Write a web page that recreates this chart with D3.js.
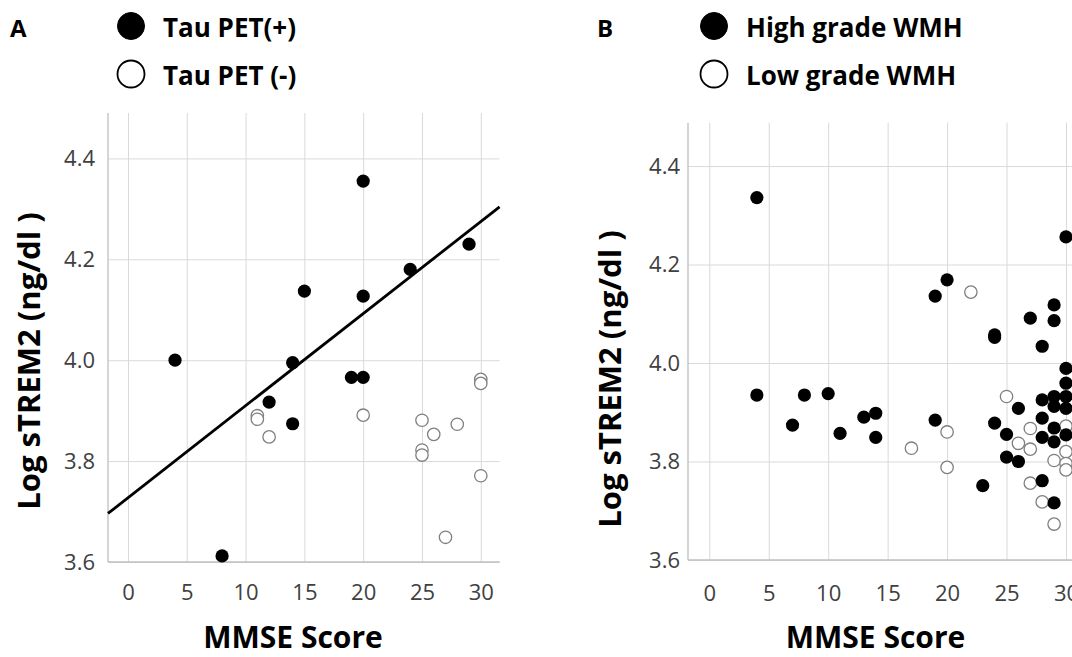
<!DOCTYPE html>
<html>
<head>
<meta charset="utf-8">
<script src="https://cdn.jsdelivr.net/npm/d3@7"></script>
<style>
  body { margin: 0; background: #fff; }
  svg { display: block; font-family: "Open Sans", sans-serif; }
</style>
</head>
<body>
<svg id="chart" width="1072" height="657"></svg>
<script>
//Data: [MMSE score, log sTREM2]
//Panel A
const tauPos = [
  [4, 4.000], [8, 3.612], [12, 3.917], [14, 3.995], [14, 3.874], [15, 4.137],
  [19, 3.966], [20, 3.966], [20, 4.127], [20, 4.355], [24, 4.180], [29, 4.230]
];
const tauNeg = [
  [11, 3.890], [11, 3.883], [12, 3.848], [20, 3.891], [25, 3.881], [25, 3.822],
  [25, 3.812], [26, 3.853], [27, 3.649], [28, 3.873], [30, 3.962], [30, 3.954],
  [30, 3.771]
];
//Panel B
const wmhHigh = [
  [4, 4.336], [4, 3.935], [7, 3.874], [8, 3.935], [10, 3.938], [11, 3.857],
  [13, 3.890], [14, 3.898], [14, 3.849], [19, 4.136], [19, 3.884], [20, 4.169],
  [23, 3.751], [24, 4.057], [24, 4.052], [24, 3.878], [25, 3.855], [25, 3.809],
  [26, 3.908], [26, 3.800], [27, 4.091], [28, 4.034], [28, 3.925], [28, 3.888],
  [28, 3.849], [28, 3.761], [29, 4.118], [29, 4.086], [29, 3.932], [29, 3.912],
  [29, 3.868], [29, 3.840], [29, 3.716], [30, 4.256], [30, 3.989], [30, 3.959],
  [30, 3.932], [30, 3.908], [30, 3.854]
];
const wmhLow = [
  [17, 3.827], [20, 3.860], [20, 3.788], [22, 4.144], [25, 3.932], [26, 3.837],
  [27, 3.867], [27, 3.825], [27, 3.756], [28, 3.718], [29, 3.802], [29, 3.673],
  [30, 3.872], [30, 3.820], [30, 3.796], [30, 3.783]
];
const mmseTicks = [0, 5, 10, 15, 20, 25, 30];
const tremTicks = [3.6, 3.8, 4.0, 4.2, 4.4];
const legendA = ["Tau PET(+)", "Tau PET (-)"];
const legendB = ["High grade WMH", "Low grade WMH"];

const svg = d3.select("#chart");
svg.append("rect").attr("width", 1072).attr("height", 657).attr("fill", "#fff");

//Least squares fit, used for the trend line in panel A
function linFit(pts) {
  const mx = d3.mean(pts, (d) => d[0]);
  const my = d3.mean(pts, (d) => d[1]);
  const sxy = d3.sum(pts, (d) => (d[0] - mx) * (d[1] - my));
  const sxx = d3.sum(pts, (d) => (d[0] - mx) ** 2);
  const b = sxy / sxx;
  return (v) => my + b * (v - mx);
}

//One scatter panel --------
function drawPanel(cfg) {
  const x = d3.scaleLinear().domain(cfg.xDomain).range([cfg.left, cfg.right]);
  const y = d3.scaleLinear().domain(cfg.yDomain).range([cfg.bottom, cfg.top]);
  const g = svg.append("g");

  //x gridlines + tick labels
  const gx = g.append("g")
    .attr("transform", `translate(0,${cfg.bottom})`)
    .call(d3.axisBottom(x).tickValues(mmseTicks)
      .tickSize(-(cfg.bottom - cfg.top)).tickPadding(cfg.xPad).tickFormat(d3.format("d")));
  //y gridlines + tick labels
  const gy = g.append("g")
    .attr("transform", `translate(${cfg.left},0)`)
    .call(d3.axisLeft(y).tickValues(tremTicks)
      .tickSize(-(cfg.right - cfg.left)).tickPadding(cfg.yPad).tickFormat(d3.format(".1f")));

  [gx, gy].forEach((a) => {
    a.select(".domain").remove();
    a.selectAll(".tick line").attr("stroke", "#d9d9d9").attr("stroke-width", 1);
    a.selectAll(".tick text")
      .attr("fill", "#404040")
      .attr("font-size", 22)
      .attr("font-family", "Open Sans, sans-serif");
  });

  //axis lines
  g.append("line")
    .attr("x1", cfg.left).attr("x2", cfg.left)
    .attr("y1", cfg.top).attr("y2", cfg.bottom)
    .attr("stroke", "#bfbfbf").attr("stroke-width", 1.3);
  g.append("line")
    .attr("x1", cfg.left).attr("x2", cfg.right)
    .attr("y1", cfg.bottom).attr("y2", cfg.bottom)
    .attr("stroke", "#bfbfbf").attr("stroke-width", 1.3);

  //trend line
  if (cfg.fit) {
    const f = linFit(cfg.fit);
    g.append("line")
      .attr("x1", x(cfg.xDomain[0])).attr("y1", y(f(cfg.xDomain[0])))
      .attr("x2", x(cfg.xDomain[1])).attr("y2", y(f(cfg.xDomain[1])))
      .attr("stroke", "#000").attr("stroke-width", 2.8);
  }

  //open markers under the filled ones
  g.append("g")
    .selectAll("circle")
    .data(cfg.open)
    .join("circle")
    .attr("cx", (d) => x(d[0]))
    .attr("cy", (d) => y(d[1]))
    .attr("r", 6.2)
    .attr("fill", "#fff")
    .attr("stroke", "#7f7f7f")
    .attr("stroke-width", 1.3);

  g.append("g")
    .selectAll("circle")
    .data(cfg.filled)
    .join("circle")
    .attr("cx", (d) => x(d[0]))
    .attr("cy", (d) => y(d[1]))
    .attr("r", 6.6)
    .attr("fill", "#000");

  //axis titles
  g.append("text")
    .attr("x", cfg.xTitleX).attr("y", cfg.xTitleY)
    .attr("text-anchor", "middle")
    .attr("font-size", 30).attr("font-weight", 700)
    .text("MMSE Score");
  g.append("text")
    .attr("transform", `translate(${cfg.yTitleX},${cfg.yTitleY}) rotate(-90)`)
    .attr("text-anchor", "middle")
    .attr("font-size", 31).attr("font-weight", 700)
    .text("Log sTREM2 (ng/dl )");

  //panel letter + legend
  g.append("text")
    .attr("x", cfg.letterX).attr("y", 37)
    .attr("font-size", 24).attr("font-weight", 700)
    .text(cfg.letter);

  const leg = g.append("g")
    .selectAll("g")
    .data(cfg.legend)
    .join("g")
    .attr("transform", (d, i) => `translate(${cfg.legendX},${i === 0 ? 26 : 74})`);
  leg.append("circle")
    .attr("r", 13.5)
    .attr("fill", (d, i) => (i === 0 ? "#000" : "#fff"))
    .attr("stroke", "#000")
    .attr("stroke-width", (d, i) => (i === 0 ? 1 : 1.8));
  leg.append("text")
    .attr("x", 32).attr("y", 11)
    .attr("font-size", 26).attr("font-weight", 700)
    .text((d) => d);
}

drawPanel({
  left: 108, right: 499.6, top: 113, bottom: 562,
  xDomain: [-1.7, 31.6], yDomain: [3.6, 4.49],
  xPad: 22, yPad: 13,
  filled: tauPos, open: tauNeg, fit: tauPos,
  xTitleX: 293, xTitleY: 648, yTitleX: 40, yTitleY: 361,
  letter: "A", letterX: 10, legendX: 131, legend: legendA
});

drawPanel({
  left: 688, right: 1085, top: 122.7, bottom: 560,
  xDomain: [-1.79, 31.6], yDomain: [3.6, 4.488],
  xPad: 25, yPad: 8,
  filled: wmhHigh, open: wmhLow, fit: null,
  xTitleX: 875.5, xTitleY: 648, yTitleX: 621, yTitleY: 379,
  letter: "B", letterX: 597, legendX: 714, legend: legendB
});
</script>
</body>
</html>
